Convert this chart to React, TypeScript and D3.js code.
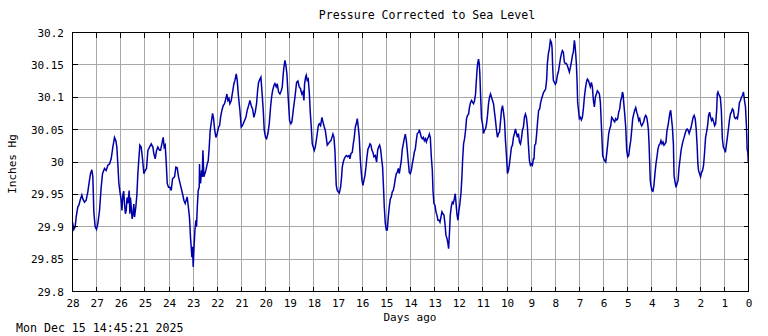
import React from "react";
import * as d3 from "d3";

// [days ago, inches Hg]
const pressureSeries: [number, number][] = [
  [28.000,29.907],[27.945,29.896],[27.890,29.900],[27.848,29.915],[27.779,29.931],[27.738,29.933],[27.669,29.943],[27.613,29.949],[27.572,29.943],[27.503,29.938],
  [27.434,29.941],[27.365,29.954],[27.309,29.969],[27.254,29.982],[27.199,29.988],[27.157,29.977],[27.116,29.923],[27.061,29.900],[27.006,29.896],[26.950,29.905],
  [26.881,29.925],[26.812,29.961],[26.757,29.982],[26.674,29.990],[26.605,29.987],[26.536,29.995],[26.467,29.997],[26.398,30.005],[26.329,30.023],[26.260,30.038],
  [26.204,30.033],[26.163,30.023],[26.122,29.997],[26.080,29.967],[26.025,29.951],[25.983,29.941],[25.950,29.925],[25.914,29.949],[25.880,29.955],[25.845,29.936],
  [25.810,29.920],[25.776,29.925],[25.740,29.945],[25.707,29.936],[25.652,29.956],[25.624,29.920],[25.600,29.945],[25.569,29.931],[25.530,29.912],[25.500,29.918],
  [25.460,29.935],[25.431,29.915],[25.376,29.931],[25.334,29.949],[25.293,29.982],[25.251,30.005],[25.210,30.026],
  [25.155,30.023],[25.099,30.005],[25.044,29.982],[24.989,29.987],[24.934,29.990],[24.878,30.018],[24.809,30.023],[24.740,30.028],[24.671,30.023],[24.630,30.013],
  [24.575,30.005],[24.519,30.018],[24.464,30.023],[24.395,30.018],[24.354,30.018],[24.298,30.028],[24.243,30.038],[24.202,30.023],[24.160,30.026],[24.119,30.000],
  [24.077,29.967],[24.022,29.961],[23.967,29.961],[23.912,29.956],[23.856,29.974],[23.773,29.977],[23.718,29.992],[23.663,29.991],[23.608,29.977],[23.525,29.964],
  [23.442,29.951],[23.387,29.941],[23.331,29.936],
  [23.276,29.943],[23.249,29.946],[23.193,29.928],[23.152,29.913],[23.110,29.882],[23.083,29.869],[23.055,29.853],[23.028,29.869],[23.000,29.838],[22.972,29.864],
  [22.931,29.894],[22.890,29.910],[22.862,29.900],[22.834,29.928],[22.793,29.956],[22.751,29.961],[22.738,29.997],[22.724,29.972],[22.696,29.967],[22.655,29.987],
  [22.627,29.977],[22.599,30.018],[22.558,29.977],[22.517,29.982],[22.475,29.987],[22.420,29.997],[22.378,30.002],[22.337,30.023],[22.296,30.049],[22.240,30.064],
  [22.199,30.075],[22.157,30.067],[22.116,30.051],[22.061,30.038],[22.006,30.044],[21.950,30.054],[21.909,30.056],[21.867,30.069],[21.812,30.080],[21.757,30.087],
  [21.702,30.090],[21.646,30.098],[21.605,30.105],[21.564,30.095],[21.522,30.098],[21.481,30.090],[21.425,30.095],[21.370,30.108],[21.315,30.121],[21.273,30.126],
  [21.218,30.136],[21.177,30.126],[21.122,30.100],[21.066,30.080],[21.011,30.054],[20.970,30.056],[20.928,30.059],[20.873,30.064],[20.818,30.069],[20.762,30.080],
  [20.707,30.087],[20.652,30.095],[20.597,30.087],[20.541,30.082],[20.486,30.069],[20.431,30.077],[20.376,30.090],[20.334,30.110],[20.293,30.123],[20.238,30.128],
  [20.196,30.131],[20.155,30.110],[20.099,30.080],[20.058,30.049],[20.003,30.038],[19.961,30.036],[19.906,30.044],[19.851,30.059],[19.796,30.085],[19.754,30.100],
  [19.713,30.110],[19.657,30.118],[19.616,30.121],[19.561,30.116],[19.519,30.121],[19.464,30.108],[19.409,30.105],[19.354,30.110],[19.312,30.116],[19.271,30.136],
  [19.243,30.146],[19.202,30.157],[19.160,30.149],[19.119,30.136],[19.064,30.098],[19.008,30.064],[18.953,30.059],[18.912,30.062],[18.856,30.080],[18.787,30.100],
  [18.718,30.123],[18.663,30.125],[18.608,30.116],[18.552,30.113],
  [18.539,30.110],[18.497,30.105],[18.456,30.108],[18.414,30.095],[18.387,30.121],[18.345,30.131],[18.318,30.134],[18.276,30.126],[18.235,30.128],[18.193,30.108],
  [18.152,30.077],[18.110,30.054],[18.069,30.028],[18.028,30.023],[17.986,30.018],[17.945,30.023],[17.903,30.033],[17.862,30.044],[17.820,30.056],[17.779,30.059],
  [17.724,30.056],[17.669,30.069],[17.627,30.062],[17.572,30.054],[17.530,30.049],[17.489,30.038],[17.448,30.026],[17.406,30.028],[17.351,30.031],[17.296,30.033],
  [17.254,30.038],[17.213,30.043],[17.171,30.038],[17.130,30.018],[17.102,29.990],[17.075,29.964],[17.033,29.956],[16.992,29.954],[16.950,29.952],[16.895,29.961],
  [16.854,29.977],[16.826,29.992],[16.785,30.000],[16.743,30.005],[16.702,30.008],[16.660,30.010],[16.605,30.008],[16.550,30.010],[16.508,30.005],[16.467,30.013],
  [16.412,30.015],[16.370,30.028],[16.329,30.038],[16.287,30.054],[16.246,30.059],[16.204,30.067],[16.163,30.054],[16.122,30.038],[16.080,30.005],[16.052,29.990],
  [16.011,29.972],[15.970,29.964],[15.928,29.972],[15.887,29.979],[15.845,29.992],[15.804,30.008],[15.762,30.020],[15.721,30.023],[15.680,30.028],[15.638,30.026],
  [15.597,30.018],[15.555,30.015],[15.514,30.008],[15.459,30.010],[15.403,30.000],[15.362,30.018],[15.320,30.023],[15.279,30.026],[15.238,30.020],[15.196,30.005],
  [15.155,29.992],[15.113,29.956],[15.086,29.931],[15.044,29.905],[15.003,29.895],[14.961,29.895],[14.920,29.915],[14.878,29.931],[14.837,29.943],[14.796,29.946],
  [14.754,29.954],[14.713,29.956],[14.671,29.964],[14.630,29.974],[14.588,29.982],[14.547,29.984],[14.506,29.990],[14.464,29.982],[14.423,29.992],[14.381,30.002],
  [14.340,30.020],[14.298,30.028],[14.257,30.036],[14.215,30.043],[14.174,30.034],[14.133,30.018],[14.091,30.000],[14.050,29.984],[14.008,29.982],[13.967,29.987],
  [13.925,29.997],[13.884,30.005],[13.843,30.015],[13.801,30.020],[13.760,30.033],[13.718,30.044],
  [13.661,30.046],[13.634,30.050],[13.592,30.044],[13.551,30.038],[13.510,30.036],[13.468,30.038],[13.427,30.033],[13.386,30.036],[13.344,30.031],[13.303,30.036],
  [13.262,30.038],[13.220,30.043],[13.179,30.038],[13.138,30.008],[13.096,29.987],[13.069,29.956],[13.028,29.936],[12.986,29.933],[12.945,29.923],[12.904,29.918],
  [12.862,29.910],[12.821,29.910],[12.780,29.907],[12.738,29.915],[12.697,29.923],[12.656,29.920],[12.614,29.918],[12.573,29.905],[12.532,29.887],[12.490,29.882],
  [12.449,29.874],[12.421,29.866],[12.380,29.895],[12.353,29.918],[12.311,29.931],[12.270,29.938],[12.229,29.936],[12.187,29.943],[12.146,29.951],[12.118,29.938],
  [12.077,29.920],[12.036,29.910],[11.994,29.925],[11.953,29.936],[11.912,29.951],[11.870,29.977],[11.843,30.002],[11.802,30.028],[11.760,30.036],[11.719,30.049],
  [11.678,30.067],[11.636,30.072],[11.595,30.074],[11.554,30.085],[11.512,30.092],[11.471,30.095],[11.430,30.092],[11.388,30.090],[11.347,30.095],[11.306,30.105],
  [11.264,30.131],[11.237,30.146],[11.209,30.154],[11.182,30.159],[11.154,30.152],[11.127,30.136],[11.099,30.105],[11.058,30.067],[11.017,30.059],[10.975,30.044],
  [10.934,30.049],[10.893,30.051],[10.851,30.059],[10.810,30.072],[10.769,30.090],[10.727,30.100],[10.686,30.105],[10.645,30.100],[10.603,30.095],[10.562,30.090],
  [10.521,30.077],[10.479,30.064],[10.438,30.049],[10.397,30.038],[10.355,30.044],[10.314,30.046],[10.273,30.062],[10.231,30.080],[10.190,30.087],[10.149,30.077],
  [10.107,30.064],[10.066,30.033],[10.025,30.010],[9.983,29.982],[9.942,29.987],[9.901,29.997],[9.860,30.010],[9.818,30.023],[9.777,30.026],[9.736,30.038],
  [9.694,30.044],[9.653,30.051],[9.612,30.044],[9.570,30.038],[9.529,30.044],[9.488,30.031],[9.446,30.028],[9.405,30.036],[9.364,30.049],[9.322,30.054],
  [9.281,30.069],[9.240,30.074],[9.198,30.069],[9.157,30.054],[9.116,30.026],[9.074,30.002],[9.033,29.995],[8.992,29.997],[8.950,29.995],[8.909,30.005],
  [8.884,30.005],[8.856,30.026],[8.815,30.028],[8.773,30.044],[8.732,30.064],[8.691,30.080],[8.649,30.082],[8.608,30.092],[8.566,30.098],[8.525,30.103],
  [8.483,30.108],[8.442,30.110],[8.401,30.113],[8.359,30.128],[8.331,30.152],[8.290,30.167],[8.249,30.175],[8.207,30.188],[8.166,30.185],[8.138,30.177],
  [8.110,30.146],[8.083,30.126],[8.041,30.123],[8.000,30.120],[7.959,30.123],[7.917,30.134],[7.876,30.139],[7.834,30.149],[7.793,30.159],[7.751,30.167],
  [7.710,30.172],[7.669,30.170],[7.627,30.154],[7.586,30.152],[7.544,30.152],[7.503,30.149],[7.461,30.144],[7.420,30.139],[7.378,30.146],[7.337,30.154],
  [7.296,30.164],[7.254,30.170],[7.213,30.188],[7.185,30.180],[7.157,30.167],[7.130,30.152],[7.102,30.126],[7.075,30.092],[7.033,30.077],[7.006,30.067],
  [6.964,30.069],[6.923,30.065],[6.881,30.069],[6.840,30.082],[6.798,30.100],[6.757,30.113],[6.715,30.123],[6.674,30.128],[6.633,30.126],[6.591,30.121],
  [6.550,30.116],[6.508,30.123],[6.467,30.116],[6.425,30.095],[6.384,30.085],[6.343,30.100],[6.301,30.105],[6.260,30.110],[6.218,30.108],[6.177,30.105],
  [6.135,30.092],[6.108,30.069],[6.066,30.033],[6.039,30.010],[5.997,30.005],[5.956,30.002],[5.914,30.000],[5.873,30.013],[5.831,30.028],[5.790,30.044],
  [5.749,30.051],[5.707,30.056],[5.666,30.069],[5.624,30.067],[5.583,30.064],[5.541,30.062],[5.500,30.067],[5.459,30.065],[5.417,30.067],[5.376,30.077],
  [5.334,30.082],[5.293,30.095],[5.251,30.100],[5.224,30.108],[5.196,30.105],[5.169,30.092],[5.127,30.074],[5.086,30.054],[5.044,30.018],[5.003,30.008],
  [4.961,30.010],[4.920,30.023],[4.878,30.033],[4.837,30.049],[4.796,30.067],[4.754,30.074],[4.713,30.080],[4.671,30.084],[4.630,30.077],[4.588,30.072],
  [4.547,30.064],[4.506,30.067],[4.464,30.059],[4.423,30.056],[4.381,30.059],[4.340,30.062],[4.298,30.069],[4.257,30.072],[4.215,30.069],[4.174,30.059],
  [4.146,30.049],[4.119,30.028],[4.091,29.997],
  [4.069,29.972],[4.042,29.964],[4.000,29.956],[3.958,29.955],[3.917,29.964],[3.875,29.982],[3.833,29.997],[3.792,30.008],[3.750,30.020],[3.708,30.026],
  [3.667,30.028],[3.625,30.033],[3.583,30.028],[3.542,30.031],[3.500,30.026],[3.458,30.028],[3.417,30.031],[3.375,30.049],[3.333,30.056],[3.292,30.067],
  [3.250,30.077],[3.222,30.080],[3.194,30.069],[3.153,30.054],[3.111,30.028],[3.083,29.979],[3.042,29.969],[3.000,29.961],[2.958,29.967],[2.917,29.972],
  [2.875,29.992],[2.833,30.005],[2.792,30.018],[2.750,30.026],[2.708,30.033],[2.667,30.038],[2.625,30.044],[2.583,30.049],[2.542,30.051],[2.500,30.049],
  [2.458,30.044],[2.417,30.049],[2.375,30.054],[2.333,30.062],[2.292,30.069],[2.250,30.072],[2.208,30.067],[2.167,30.051],[2.125,30.023],[2.097,29.997],
  [2.069,29.987],[2.028,29.982],[1.986,29.977],[1.944,29.984],[1.903,29.987],[1.861,29.995],[1.819,30.015],[1.778,30.038],[1.736,30.046],[1.694,30.056],
  [1.653,30.072],[1.611,30.077],[1.569,30.069],[1.528,30.064],[1.486,30.067],[1.444,30.062],[1.403,30.056],[1.361,30.059],[1.319,30.080],[1.292,30.105],
  [1.264,30.108],[1.236,30.105],[1.208,30.103],[1.167,30.100],[1.125,30.080],[1.083,30.036],[1.042,30.023],[1.000,30.020],[0.958,30.015],[0.917,30.026],
  [0.875,30.038],[0.833,30.051],[0.792,30.064],[0.750,30.074],[0.708,30.077],[0.667,30.082],[0.625,30.080],[0.583,30.069],[0.542,30.067],[0.500,30.069],
  [0.458,30.067],[0.417,30.077],[0.375,30.092],[0.333,30.095],[0.292,30.100],[0.250,30.103],[0.208,30.108],[0.167,30.095],[0.125,30.085],[0.083,30.054],
  [0.056,30.020],[0.028,30.015],[0.010,30.000],
];

const dayTicks = [28, 27, 26, 25, 24, 23, 22, 21, 20, 19, 18, 17, 16, 15, 14, 13, 12, 11, 10, 9, 8, 7, 6, 5, 4, 3, 2, 1, 0];
const pressureTicks = [30.2, 30.15, 30.1, 30.05, 30.0, 29.95, 29.9, 29.85, 29.8];
const pressureTickLabels = ["30.2", "30.15", "30.1", "30.05", "30", "29.95", "29.9", "29.85", "29.8"];

const titleText = "Pressure Corrected to Sea Level";
const xTitle = "Days ago";
const yTitle = "Inches Hg";
const stampText = "Mon Dec 15 14:45:21 2025";

const W = 768;
const H = 336;
const L = 72.5, R = 748.5, T = 32.5, B = 291.5;
const FONT = "'DejaVu Sans Mono', monospace";

export default function App() {
  const x = d3.scaleLinear().domain([28, 0]).range([L, R]);
  const y = d3.scaleLinear().domain([29.8, 30.2]).range([B, T]);
  const line = d3
    .line<[number, number]>()
    .x((d) => x(d[0]))
    .y((d) => y(d[1]));
  const snap = (v: number) => Math.round(v - 0.5) + 0.5;

  return (
    <svg
      width={W}
      height={H}
      style={{ position: "absolute", left: 0, top: 0, background: "#fff" }}
      fontFamily={FONT}
    >
      <rect x={0} y={0} width={W} height={H} fill="#fff" />
      <g shapeRendering="crispEdges" stroke="#a8a8a8" strokeWidth={1}>
        {dayTicks.map((d) => (
          <line key={"gx" + d} x1={snap(x(d))} x2={snap(x(d))} y1={T} y2={B} />
        ))}
        {pressureTicks.map((p) => (
          <line key={"gy" + p} x1={L} x2={R} y1={snap(y(p))} y2={snap(y(p))} />
        ))}
      </g>
      <path d={line(pressureSeries) || ""} fill="none" stroke="#0000aa" strokeWidth={1.5} strokeLinejoin="miter" />
      <g shapeRendering="crispEdges" stroke="#000" strokeWidth={1}>
        <rect x={L} y={T} width={R - L} height={B - T} fill="none" />
        {dayTicks.map((d) => (
          <g key={"tx" + d}>
            <line x1={snap(x(d))} x2={snap(x(d))} y1={B - 5} y2={B} />
            <line x1={snap(x(d))} x2={snap(x(d))} y1={T} y2={T + 5} />
          </g>
        ))}
        {pressureTicks.map((p) => (
          <g key={"ty" + p}>
            <line x1={L} x2={L + 5} y1={snap(y(p))} y2={snap(y(p))} />
            <line x1={R - 5} x2={R} y1={snap(y(p))} y2={snap(y(p))} />
          </g>
        ))}
      </g>
      <g fontSize={11} fill="#000">
        <text x={427} y={19} textAnchor="middle" fontSize={11.6}>{titleText}</text>
        {pressureTicks.map((p, i) => (
          <text key={"ly" + p} x={64} y={y(p) + 4} textAnchor="end">
            {pressureTickLabels[i]}
          </text>
        ))}
        {dayTicks.map((d) => (
          <text key={"lx" + d} x={x(d) + 0.5} y={307} textAnchor="middle">
            {String(d)}
          </text>
        ))}
        <text x={410} y={321} textAnchor="middle">{xTitle}</text>
        <text transform="translate(16,164) rotate(-90)" textAnchor="middle">{yTitle}</text>
        <text x={16} y={332} fontSize={11.6}>{stampText}</text>
      </g>
    </svg>
  );
}
